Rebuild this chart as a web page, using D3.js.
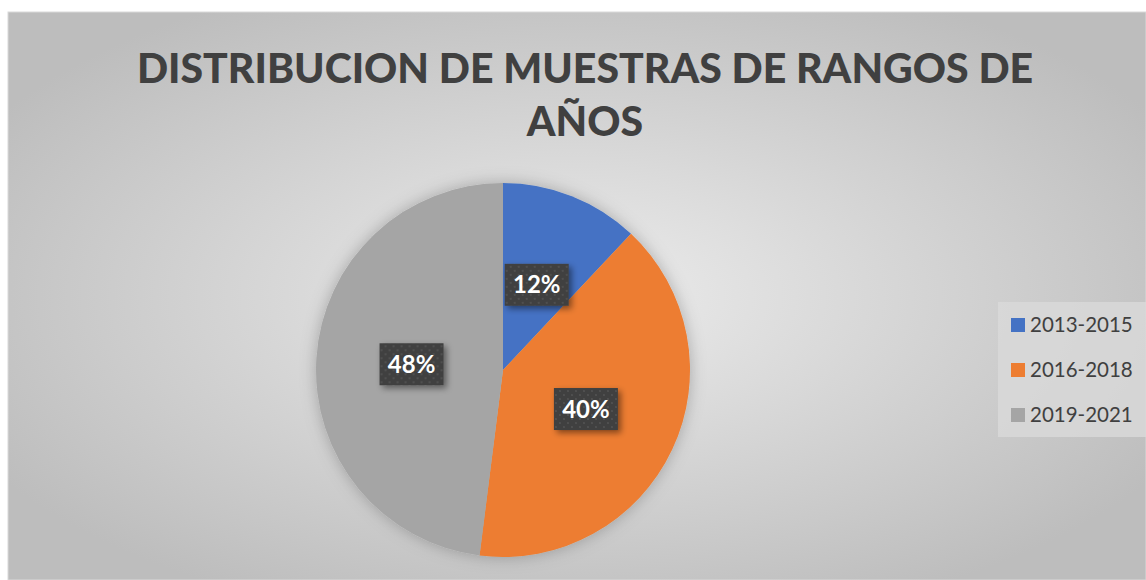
<!DOCTYPE html>
<html>
<head>
<meta charset="utf-8">
<script src="https://cdn.jsdelivr.net/npm/d3@7"></script>
<style>
  body { margin: 0; background: #ffffff; }
  svg { display: block; }
</style>
</head>
<body>
<svg id="chart"></svg>
<script>
const categories = ["2013-2015", "2016-2018", "2019-2021"];
const values = [12, 40, 48];
const colors = ["#4472c4", "#ed7d31", "#a5a5a5"];
const titleLines = ["DISTRIBUCION DE MUESTRAS DE RANGOS DE", "AÑOS"];

const width = 1146;
const height = 580;
const font = "Lato, 'Open Sans', sans-serif";

const svg = d3.select("#chart")
    .attr("width", width)
    .attr("height", height);

const defs = svg.append("defs");

// background gradient, light in the middle
const bg = defs.append("radialGradient")
    .attr("id", "bg")
    .attr("cx", "50%").attr("cy", "50%").attr("r", "60%");
bg.append("stop").attr("offset", "0%").attr("stop-color", "#ececec");
bg.append("stop").attr("offset", "100%").attr("stop-color", "#bdbdbd");

const shadow = defs.append("filter")
    .attr("id", "shadow")
    .attr("x", "-30%").attr("y", "-30%").attr("width", "160%").attr("height", "160%");
shadow.append("feDropShadow")
    .attr("dx", 3).attr("dy", 3).attr("stdDeviation", 3)
    .attr("flood-color", "#000").attr("flood-opacity", 0.45);

const pieShadow = defs.append("filter")
    .attr("id", "pieShadow")
    .attr("x", "-20%").attr("y", "-20%").attr("width", "140%").attr("height", "140%");
pieShadow.append("feDropShadow")
    .attr("dx", 0).attr("dy", 0).attr("stdDeviation", 8)
    .attr("flood-color", "#000").attr("flood-opacity", 0.25);

// dotted pattern for the label boxes
const pat = defs.append("pattern")
    .attr("id", "dots")
    .attr("width", 8).attr("height", 8)
    .attr("patternUnits", "userSpaceOnUse");
pat.append("rect").attr("width", 8).attr("height", 8).attr("fill", "#404040");
pat.append("circle").attr("cx", 2).attr("cy", 2).attr("r", 1).attr("fill", "#555");
pat.append("circle").attr("cx", 6).attr("cy", 6).attr("r", 1).attr("fill", "#555");

svg.append("rect")
    .attr("x", 8).attr("y", 12)
    .attr("width", width - 8).attr("height", height - 12)
    .attr("fill", "url(#bg)")
    .attr("stroke", "#d9d9d9");

// title
const title = svg.append("text")
    .attr("text-anchor", "middle")
    .style("font-family", font)
    .style("font-weight", "900")
    .style("font-size", "41px")
    .style("fill", "#404040");
title.selectAll("tspan")
    .data(titleLines)
    .enter().append("tspan")
    .attr("x", 585)
    .attr("y", (d, i) => 83 + i * 53)
    .text(d => d);

// pie
const cx = 503, cy = 370, radius = 187;

const pie = d3.pie().sort(null).value(d => d.value);
const arc = d3.arc().innerRadius(0).outerRadius(radius);
const data = categories.map((c, i) => ({ name: c, value: values[i], color: colors[i] }));
const total = d3.sum(values);

const g = svg.append("g").attr("transform", `translate(${cx},${cy})`);

g.append("g")
    .attr("filter", "url(#pieShadow)")
    .selectAll("path")
    .data(pie(data))
    .enter().append("path")
    .attr("d", arc)
    .attr("fill", d => d.data.color);

const labelArc = d3.arc().innerRadius(radius * 0.49).outerRadius(radius * 0.49);

const labels = g.selectAll("g.label")
    .data(pie(data))
    .enter().append("g")
    .attr("class", "label")
    .attr("transform", d => `translate(${labelArc.centroid(d)})`);

labels.append("rect")
    .attr("x", -32).attr("y", -21)
    .attr("width", 64).attr("height", 42)
    .attr("fill", "url(#dots)")
    .attr("filter", "url(#shadow)");

labels.append("text")
    .attr("text-anchor", "middle")
    .attr("dy", "0.36em")
    .style("font-family", font)
    .style("font-weight", "bold")
    .style("font-size", "24px")
    .style("fill", "#ffffff")
    .text(d => Math.round(d.data.value / total * 100) + "%");

// legend
const legend = svg.append("g").attr("transform", "translate(998,302)");
legend.append("rect")
    .attr("width", 148).attr("height", 135)
    .attr("fill", "#d9d9d9")
    .attr("opacity", 0.8);

const items = legend.selectAll("g.item")
    .data(data)
    .enter().append("g")
    .attr("class", "item")
    .attr("transform", (d, i) => `translate(13,${23 + i * 45})`);

items.append("rect")
    .attr("x", 0).attr("y", -7)
    .attr("width", 14).attr("height", 14)
    .attr("fill", d => d.color);

items.append("text")
    .attr("x", 19)
    .attr("dy", "0.35em")
    .style("font-family", font)
    .style("font-size", "20.5px")
    .style("fill", "#404040")
    .text(d => d.name);
</script>
</body>
</html>
